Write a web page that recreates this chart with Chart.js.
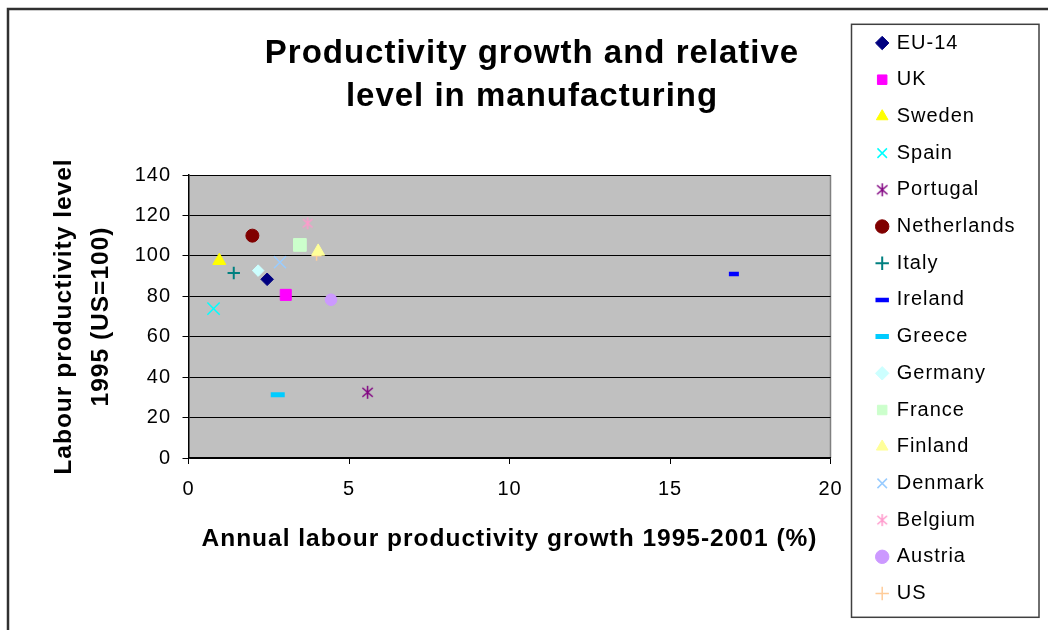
<!DOCTYPE html>
<html>
<head>
<meta charset="utf-8">
<script src="https://cdn.jsdelivr.net/npm/chart.js@4.4.1/dist/chart.umd.min.js"></script>
<style>
  html, body { margin: 0; padding: 0; background: #fff; }
  #wrap { width: 1048px; height: 630px; }
</style>
</head>
<body>
<div id="wrap"><canvas id="chart"></canvas></div>
<script>
// one point per country: annual growth (%) and level vs US
const countries = ['EU-14', 'UK', 'Sweden', 'Spain', 'Portugal', 'Netherlands', 'Italy', 'Ireland',
  'Greece', 'Germany', 'France', 'Finland', 'Denmark', 'Belgium', 'Austria', 'US'];
const growth = [2.45, 3.03, 0.96, 0.78, 5.58, 1.99, 1.41, 16.99, 2.78, 2.17, 3.47, 4.04, 2.85, 3.71, 4.44, 3.99];
const level = [88.4, 80.7, 97.6, 73.9, 32.5, 110.0, 91.5, 91.0, 31.3, 92.7, 105.4, 102.2, 96.8, 116.1, 78.3, 100.0];

const xTicks = [0, 5, 10, 15, 20];
const yTicks = [0, 20, 40, 60, 80, 100, 120, 140];

// marker look for each series
const colors = ['#000080', '#FF00FF', '#FFFF00', '#00FFFF', '#800080', '#800000', '#008080', '#0000FF',
  '#00CCFF', '#CCFFFF', '#CCFFCC', '#FFFF99', '#99CCFF', '#FF99CC', '#CC99FF', '#FFCC99'];
const shapes = ['rectRot', 'rect', 'triangle', 'crossRot', 'asterisk', 'circle', 'cross', 'line',
  'line', 'rectRot', 'rect', 'triangle', 'crossRot', 'asterisk', 'circle', 'cross'];
const radii = [6.3, 7.8, 7.5, 8.7, 7, 6.5, 6.2, 5, 7, 5.8, 9, 7.5, 8.5, 6.5, 5.8, 5];
const widths = [1, 1, 1, 1.5, 1.5, 1, 2, 4.5, 5, 1, 1, 1, 1.5, 1.5, 1, 1.5];

const FONT = "'Liberation Sans', Arial, sans-serif";

// six-armed asterisk (an X with a vertical bar), drawn once as a small sprite
function asterisk(color, size, lw) {
  const c = document.createElement('canvas');
  c.width = size; c.height = size;
  const g = c.getContext('2d');
  const m = size / 2, r = size / 2 - 1;
  g.strokeStyle = color;
  g.lineWidth = lw;
  g.beginPath();
  g.moveTo(m, m - r); g.lineTo(m, m + r);
  g.moveTo(m - r * 0.8, m - r * 0.7); g.lineTo(m + r * 0.8, m + r * 0.7);
  g.moveTo(m + r * 0.8, m - r * 0.7); g.lineTo(m - r * 0.8, m + r * 0.7);
  g.stroke();
  return c;
}

const datasets = countries.map((name, i) => ({
  label: name,
  data: [{ x: growth[i], y: level[i] }],
  pointStyle: shapes[i] === 'asterisk' ? asterisk(colors[i], Math.round(radii[i] * 2 + 1), widths[i]) : shapes[i],
  pointRadius: radii[i],
  pointHoverRadius: radii[i],
  backgroundColor: colors[i],
  borderColor: colors[i],
  borderWidth: widths[i]
}));

// Excel-ish wider text
const spacing = {
  id: 'spacing',
  beforeUpdate(chart) { chart.ctx.letterSpacing = '1px'; },
  beforeDraw(chart) { chart.ctx.letterSpacing = '1px'; }
};

// grey plot background with a grey right edge
const plotBg = {
  id: 'plotBg',
  beforeDraw(chart) {
    const { ctx, chartArea: a } = chart;
    ctx.save();
    ctx.fillStyle = '#C0C0C0';
    ctx.fillRect(a.left, a.top, a.right - a.left, a.bottom - a.top);
    ctx.strokeStyle = '#808080';
    ctx.lineWidth = 1.5;
    ctx.beginPath();
    ctx.moveTo(a.right, a.top);
    ctx.lineTo(a.right, a.bottom);
    ctx.stroke();
    ctx.restore();
  }
};

// legend sits in its own framed box on the right
const legendBox = {
  id: 'legendBox',
  beforeInit(chart) {
    const lg = chart.legend;
    const fit = lg.fit;
    lg.fit = function () {
      fit.call(this);
      this.width = 208.5;
    };
  },
  afterLayout(chart) {
    const lg = chart.legend;
    lg.left = chart.chartArea.right + 30.5;
    lg.top += 6.3;
    const t = chart.titleBlock;
    t.left += 4; t.right += 4;
  },
  afterDraw(chart) {
    const { ctx } = chart;
    const lg = chart.legend;
    ctx.save();
    ctx.strokeStyle = '#404040';
    ctx.lineWidth = 1.5;
    ctx.strokeRect(lg.left - 9.5, lg.top + 8, lg.right - lg.left + 9.5, 593);
    // outer chart frame
    ctx.lineWidth = 2.5;
    ctx.strokeStyle = '#303030';
    ctx.strokeRect(8, 9, 1100, 700);
    ctx.restore();
  }
};

new Chart(document.getElementById('chart'), {
  type: 'scatter',
  data: { datasets },
  plugins: [spacing, plotBg, legendBox],
  options: {
    responsive: true,
    maintainAspectRatio: false,
    animation: false,
    layout: { padding: { top: 10, left: 17, right: 9, bottom: 0 } },
    plugins: {
      tooltip: { enabled: false },
      title: {
        display: true,
        text: ['Productivity growth and relative', 'level in manufacturing'],
        color: '#000',
        font: { family: FONT, size: 33, weight: 'bold', lineHeight: 1.3 },
        padding: { top: 22.5, bottom: 56.7 }
      },
      legend: {
        position: 'right',
        align: 'start',
        labels: {
          usePointStyle: true,
          boxWidth: 9,
          boxHeight: 9.5,
          padding: 16.7,
          color: '#000',
          font: { family: FONT, size: 20 }
        }
      }
    },
    scales: {
      x: {
        type: 'linear',
        min: 0,
        max: 20,
        afterBuildTicks(scale) { scale.ticks = xTicks.map(v => ({ value: v })); },
        afterFit(scale) { scale.height = 172; },
        ticks: { color: '#000', padding: 13.5, font: { family: FONT, size: 20 } },
        grid: { drawOnChartArea: false, drawTicks: true, tickLength: 6, color: '#000', lineWidth: 1 },
        border: { color: '#000', width: 1.5 },
        title: {
          display: true,
          text: 'Annual labour productivity growth 1995-2001 (%)',
          color: '#000',
          font: { family: FONT, size: 24.5, weight: 'bold' },
          padding: { top: 0, bottom: 76.3 }
        }
      },
      y: {
        type: 'linear',
        min: 0,
        max: 140,
        afterBuildTicks(scale) { scale.ticks = yTicks.map(v => ({ value: v })); },
        afterFit(scale) { scale.width = 171.5; },
        ticks: { color: '#000', padding: 11.5, font: { family: FONT, size: 20 } },
        grid: { drawTicks: true, tickLength: 6, color: '#000', lineWidth: 1 },
        border: { color: '#000', width: 1.5 },
        title: {
          display: true,
          text: ['Labour productivity level', '1995 (US=100)'],
          color: '#000',
          font: { family: FONT, size: 24.5, weight: 'bold', lineHeight: 1.51 },
          padding: { top: 29, bottom: 0 }
        }
      }
    }
  }
});
</script>
</body>
</html>
